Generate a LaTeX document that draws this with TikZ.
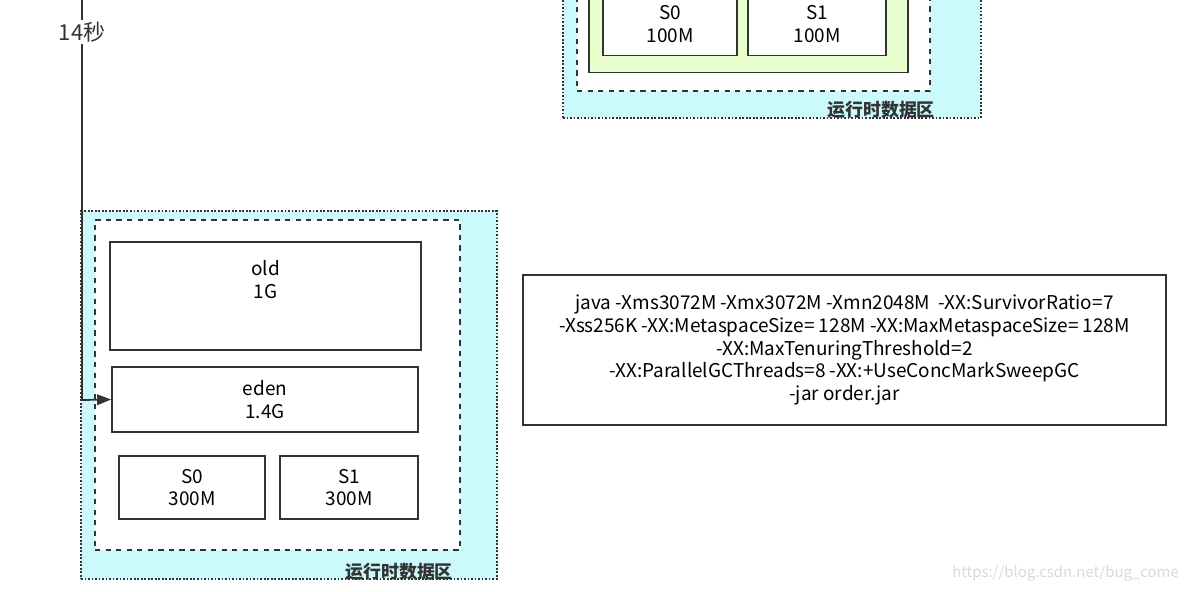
\documentclass[tikz,border=0pt]{standalone}
\usepackage{fontspec}
\setmainfont{Noto Sans CJK SC}
\usetikzlibrary{arrows.meta, positioning}
\definecolor{AreaCyan}{RGB}{204, 250, 252}
\definecolor{HeapGreen}{RGB}{230, 255, 204}
\definecolor{LineDark}{RGB}{51, 51, 51}
\tikzset{
  region/.style={draw=LineDark, densely dotted, line width=1pt, fill=AreaCyan, inner sep=0pt},
  heap/.style={draw=LineDark, dashed, line width=1pt, fill=white, inner sep=0pt},
  mem/.style={draw=LineDark, line width=1pt, fill=white, align=center, inner sep=0pt, font=\fontsize{10.8}{13}\selectfont},
  tag/.style={font=\bfseries\fontsize{10.2}{11}\selectfont, text=LineDark, inner sep=1pt}
}
\begin{document}
\begin{tikzpicture}[x=0.02cm, y=-0.02cm]
  \useasboundingbox (0,0) rectangle (1192,591);
  % upper snapshot
  \node[region, minimum width=8.36cm, minimum height=2.8cm] (areaA) at (772,48) {};
  \node[heap, minimum width=7.06cm, minimum height=2.32cm] (heapA) at (753.5,33) {};
  \node[mem, fill=HeapGreen, minimum width=6.38cm, minimum height=1.86cm] (genA) at (748.5,26) {};
  \node[mem, minimum width=2.68cm, minimum height=1.26cm] (s0A) at (670,24) {S0\\100M};
  \node[mem, minimum width=2.76cm, minimum height=1.26cm] (s1A) at (817,24) {S1\\100M};
  \node[tag, anchor=south east] (tagA) at (937,121) {运行时数据区};
  % lower snapshot
  \node[region, minimum width=8.32cm, minimum height=7.36cm] (areaB) at (289,395) {};
  \node[heap, minimum width=7.3cm, minimum height=6.6cm] (heapB) at (277.5,385) {};
  \node[mem, minimum width=6.22cm, minimum height=2.16cm] (old) at (265.5,296) {old\\1G\\[0.5em]};
  \node[mem, minimum width=6.12cm, minimum height=1.3cm] (eden) at (265,399.5) {eden\\1.4G};
  \node[mem, minimum width=2.92cm, minimum height=1.26cm] (s0B) at (192,487.5) {S0\\300M};
  \node[mem, minimum width=2.76cm, minimum height=1.26cm] (s1B) at (349,487.5) {S1\\300M};
  \node[tag, anchor=south east] (tagB) at (455,583) {运行时数据区};
  % time line
  \coordinate (start) at (82,0);
  \coordinate (bend) at (82,400);
  \draw[LineDark, line width=1pt, -{Triangle[length=8pt, width=6pt]}] (start) -- (bend) -- (eden.west);
  \node[fill=white, inner sep=1pt, font=\fontsize{12.5}{14}\selectfont, text=LineDark] (t14) at (82,32) {14秒};
  % jvm options
  \node[mem, minimum width=12.86cm, minimum height=3cm] (opts) at (844.5,350) {java -Xms3072M -Xmx3072M -Xmn2048M\ \ -XX:SurvivorRatio=7\\-Xss256K -XX:MetaspaceSize= 128M -XX:MaxMetaspaceSize= 128M\\-XX:MaxTenuringThreshold=2\\-XX:ParallelGCThreads=8 -XX:+UseConcMarkSweepGC\\-jar order.jar};
  \node[text=black!15, font=\fontsize{8.5}{9}\selectfont, anchor=east] (mark) at (1185,573) {https://blog.csdn.net/bug\_come};
\end{tikzpicture}
\end{document}
